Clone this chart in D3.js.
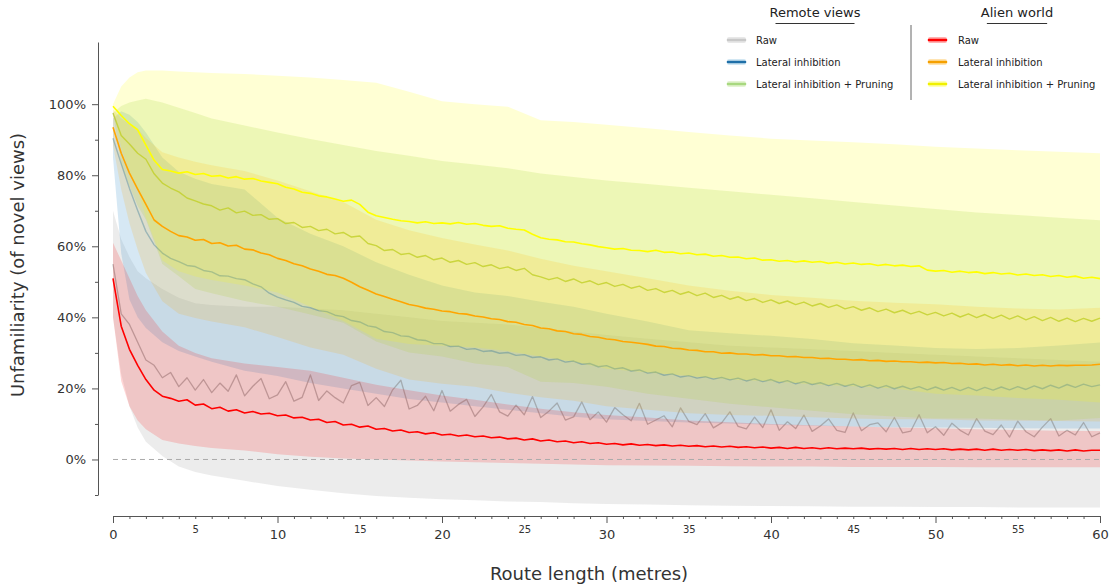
<!DOCTYPE html>
<html><head><meta charset="utf-8">
<script src="https://cdn.jsdelivr.net/npm/d3@7"></script>
<style>
html,body{margin:0;padding:0;background:#fff;}
svg{display:block;font-family:"DejaVu Sans",sans-serif;}
svg text{font-family:"DejaVu Sans",sans-serif;}
.ytk text{font-size:13px;fill:#333;}
.xmaj text{font-size:13px;fill:#333;}
.xmid text{font-size:10px;fill:#333;}
</style></head>
<body><svg id="c" width="1114" height="586"></svg>
<script>
// ---- data (route in metres, values in %) ----
const route = [0,0.5,1,1.5,2,2.5,3,3.5,4,4.5,5,5.5,6,6.5,7,7.5,8,8.5,9,9.5,10,10.5,11,11.5,12,12.5,13,13.5,14,14.5,15,15.5,16,16.5,17,17.5,18,18.5,19,19.5,20,20.5,21,21.5,22,22.5,23,23.5,24,24.5,25,25.5,26,26.5,27,27.5,28,28.5,29,29.5,30,30.5,31,31.5,32,32.5,33,33.5,34,34.5,35,35.5,36,36.5,37,37.5,38,38.5,39,39.5,40,40.5,41,41.5,42,42.5,43,43.5,44,44.5,45,45.5,46,46.5,47,47.5,48,48.5,49,49.5,50,50.5,51,51.5,52,52.5,53,53.5,54,54.5,55,55.5,56,56.5,57,57.5,58,58.5,59,59.5,60];

const remoteRaw = [55,41,38,33,28,26.5,23,24.5,20.5,23,19.5,22.5,18.8,21.5,19.2,23.8,
  17.9,20.6,22.8,17.1,18.2,21.9,16.4,17.5,23.8,16.6,19.3,17.4,15.9,20.8,21.7,15.2,17.4,14.9,19.6,22.3,14.2,15.2,17.8,13.7,
  19.4,13.6,15.5,16.9,12.1,14.8,18.3,13.4,12.2,15.3,12.6,17.7,11.8,13.6,15.9,11.1,12.0,16.2,11.2,13.4,
  10.5,14.6,12.6,10.9,15.8,9.9,11.1,12.3,9.2,14.5,10.7,9.8,12.9,8.9,10.3,13.4,9.3,8.6,11.9,9.0,
  14.0,8.2,10.6,8.7,12.5,7.9,9.4,11.4,8.2,7.6,13.1,8.1,9.8,10.3,7.8,11.8,7.5,8.0,12.6,7.5,
  9.2,6.8,10.2,8.2,6.9,11.5,8.0,7.0,9.7,6.3,10.8,7.8,6.4,9.1,11.5,6.6,8.2,6.9,10.4,6.4,7.5];
const remoteLI = [90.4,83.2,76.3,70.1,64.2,60.4,58.1,56.6,55.7,54.6,54.3,53.2,52.8,51.7,51.6,50.9,50.6,49.4,48.6,46.8,45.7,44.9,44.2,43.1,42.7,41.9,41.6,40.6,40.2,39.1,38.7,37.6,37.2,36.0,35.7,34.8,34.6,33.7,33.5,32.6,32.6,31.8,31.9,31.0,31.2,30.4,30.6,29.9,30.1,29.3,29.5,28.7,28.9,28.0,28.3,27.4,27.7,26.8,27.0,26.1,26.4,25.5,25.8,24.9,25.2,24.3,24.6,23.7,24.1,23.2,23.6,22.9,23.3,22.6,23.1,22.4,22.9,22.1,22.7,21.9,22.5,21.6,22.2,21.3,21.9,21.1,21.6,20.8,21.4,20.6,21.2,20.3,21.0,20.1,20.8,19.9,20.6,19.8,20.5,19.6,20.4,19.5,20.3,19.4,20.3,19.4,20.3,19.5,20.4,19.6,20.5,19.7,20.7,19.9,20.9,20.1,21.1,20.3,21.2,20.5,21.0];
const remoteLIP = [97.5,91.2,88.8,86.2,84.5,80.4,77.8,76.4,75.3,73.6,72.8,71.9,71.4,70.2,70.8,69.4,69.9,68.7,68.9,67.6,67.8,66.4,66.7,65.3,65.6,64.4,64.8,63.5,63.9,62.6,62.9,60.8,60.2,58.8,59.1,57.7,58.0,56.9,57.4,56.2,56.7,55.5,56.0,54.9,55.4,54.3,54.8,53.7,54.2,53.2,53.8,52.0,51.4,50.6,51.2,50.1,50.8,49.7,50.3,49.2,49.8,48.7,49.3,48.2,48.8,47.6,48.1,47.0,47.6,46.5,47.2,46.1,46.8,45.6,46.2,45.1,45.8,44.7,45.3,44.2,44.9,43.9,44.6,43.6,44.3,43.2,43.9,42.8,43.5,42.4,43.0,42.0,42.7,41.6,42.3,41.3,42.0,41.0,41.7,40.7,41.4,40.4,41.2,40.1,41.0,39.9,40.8,39.7,40.6,39.5,40.4,39.3,40.2,39.1,40.0,38.9,39.8,38.8,39.7,38.9,39.8];
const alienRaw = [51,37.5,31,26.5,22.5,19.5,17.8,17.2,16.4,16.8,15.3,15.6,14.3,14.7,13.6,14.0,13.1,13.5,12.8,13.0,12.3,12.5,11.7,11.9,11.1,11.3,10.4,10.7,9.7,9.9,9.1,9.4,8.5,8.7,8.0,8.3,7.6,7.8,7.2,7.5,6.9,7.1,6.6,6.9,6.4,6.6,6.1,6.3,5.8,6.0,5.5,5.8,5.2,5.5,5.0,5.2,4.7,5.0,4.5,4.7,4.3,4.5,4.1,4.4,4.0,4.2,3.9,4.1,3.8,4.0,3.7,3.9,3.6,3.8,3.5,3.7,3.4,3.6,3.3,3.5,3.2,3.4,3.1,3.4,3.1,3.3,3.0,3.3,3.0,3.2,3.0,3.2,2.9,3.1,2.9,3.1,2.8,3.1,2.8,3.0,2.8,3.0,2.7,2.9,2.7,2.9,2.6,2.9,2.6,2.8,2.6,2.8,2.5,2.7,2.5,2.7,2.4,2.7,2.4,2.6,2.6];
const alienLI = [93.5,86.2,80.6,76.1,71.8,67.4,65.6,64.2,63.0,62.6,61.7,61.9,60.8,61.0,60.1,60.3,59.2,59.0,58.1,57.6,56.6,56.0,55.1,54.5,53.6,53.0,52.1,51.8,51.0,49.9,48.6,47.6,46.6,45.9,45.1,44.4,43.6,43.2,42.6,42.3,41.8,41.6,41.1,40.9,40.4,40.1,39.6,39.4,38.8,38.6,38.0,37.7,37.0,36.8,36.2,36.0,35.4,35.2,34.6,34.4,33.9,33.7,33.2,33.0,32.7,32.4,31.9,31.8,31.3,31.2,30.8,30.7,30.3,30.3,29.9,30.0,29.7,29.7,29.4,29.5,29.2,29.2,28.9,29.0,28.7,28.7,28.4,28.5,28.2,28.2,28.0,28.1,27.8,27.9,27.6,27.7,27.5,27.5,27.3,27.4,27.2,27.3,27.0,27.1,26.8,26.9,26.6,26.8,26.5,26.7,26.4,26.6,26.3,26.5,26.3,26.5,26.4,26.5,26.5,26.6,26.8];
const alienLIP = [99.4,96.8,94.5,92.8,88.5,84.2,81.6,81.2,80.6,81.0,80.2,80.5,79.7,79.9,79.2,79.6,78.9,79.1,78.4,78.0,77.6,76.6,76.1,75.2,74.9,74.2,73.9,73.3,72.7,73.0,71.8,69.6,68.6,68.1,67.6,67.2,67.0,66.6,66.9,66.4,66.6,66.3,66.7,66.2,66.4,65.9,65.6,65.8,65.1,64.8,64.6,63.4,62.4,62.0,61.8,61.3,61.2,60.7,60.4,59.9,59.6,59.2,59.4,58.9,58.8,58.5,58.9,58.3,58.4,57.9,58.1,57.6,57.8,57.2,57.4,56.9,57.0,56.5,56.7,56.1,56.2,55.8,56.0,55.6,55.9,55.5,55.7,55.2,55.5,55.0,55.3,54.9,55.1,54.6,54.9,54.5,54.7,54.3,54.5,53.3,53.0,53.2,52.7,53.0,52.6,52.8,52.3,52.6,52.2,52.4,51.9,52.2,51.8,52.0,51.5,51.8,51.3,51.6,51.0,51.3,50.9];

// spread bands (lower / upper), sampled on a coarser route
const bandRoute = [0,0.5,1,1.5,2,3,4,5,6,8,10,12,14,16,18,20,22,24,26,28,30,32.5,35,37.5,40,42.5,45,47.5,50,52.5,55,57.5,60];
const remoteRawLo = [40,24,15,9,5,1,-2,-3.5,-4.5,-6,-7.5,-8.5,-9.5,-10.3,-10.8,-11.2,-11.5,-11.8,-12,-12.3,-12.5,-12.7,-12.9,-13,-13.1,-13.2,-13.3,-13.3,-13.4,-13.4,-13.5,-13.5,-13.5];
const remoteRawHi = [70,62,57,53,51,48,45.5,44,43.5,43,43,42.5,42,41,40,39,38.5,38,37,36,35,34,33,32,31.5,31,30.5,30,29.5,29,28.5,28,27.5];
const remoteLILo = [85,58,45,40,37,33,30.5,29,27.5,25,23.5,21.5,20,18.5,17,16,15,14,13,12,11.3,10.8,10.4,10.1,9.8,9.5,9.3,9.1,9,8.9,8.8,8.7,8.7];
const remoteLIHi = [96,98,97,95,92,85,81,79,77.5,76,68,63.5,60,55.5,52,49,47,46,44.4,43,41,38.8,36.4,35.5,34.8,33.9,32.7,32.1,31.4,31.1,31.4,32.1,32.9];
const remoteLIPLo = [97.5,83,77,71.4,67.5,55,51.6,48,46.8,44.6,43,40.8,38.5,33.2,30.1,29,27,26,21.9,21.5,20.5,18.5,17.1,15.7,14.7,13.7,12.7,12.1,11.5,11.5,11.2,11,11.7];
const remoteLIPHi = [97.5,99.5,100.5,101,101.5,100.5,99,97.5,96,94,92,90.2,88.5,86.8,85.5,84,83,82,80.5,79.5,78.5,77.5,76.5,75.5,74.5,73.5,72.5,71.5,70.5,69.5,68.8,68,67.3];
const alienRawLo = [40,22,15,11,8.5,5.5,4.5,3.8,3.2,2.5,1.5,0.8,0.3,0,-0.3,-0.6,-0.8,-1,-1.2,-1.4,-1.6,-1.7,-1.8,-1.9,-2,-2,-2.1,-2.1,-2.1,-2.2,-2.2,-2.2,-2.2];
const alienRawHi = [61,56,51,46,42,36,32,30,28.5,27,26,25,23,21,19.5,18,16.8,15.5,14.3,13.3,12.5,11.8,11,10.5,10,9.6,9.3,9,8.8,8.5,8.3,8.1,8];
const alienLILo = [88.5,76,66.5,59,52.5,44.5,41,39.8,38.8,37.2,34.5,31.5,29.5,25.5,22.5,21.3,20.5,18.8,17.5,16.5,15,14,13,12.5,12.3,11.9,11.5,11.3,11.3,11,10.9,10.8,10.7];
const alienLIHi = [98.5,96,94.5,93,90.5,86.5,85,83.8,82.8,81.2,78.5,75.5,72.5,67.5,64.5,62.3,60.5,58.8,56.5,54.5,53,51,49,47.5,46.3,45.5,44.7,44.1,43.7,43,42.5,42.2,42.7];
const alienLIPLo = [99,88,81,76,68,56,53,51.5,50.5,49,47,43,39,34,32.5,32,31.5,30.5,29,27.5,25.5,24.5,23.5,22.5,22,21.2,20.6,20,18.5,18,17.3,16.8,16];
const alienLIPHi = [100,105,107.5,109,109.5,109.5,109.2,109,108.8,108.5,108,107.5,106.8,106,103.5,100.8,100,99.3,95.5,95,94.2,93.2,92.2,91.2,90.3,89.8,89.3,88.7,88,87.5,87,86.6,86.2];

const yMajorTicks = [0,20,40,60,80,100];
const yMinorTicks = [-10,10,30,50,70,90];
const xMajorTicks = [0,10,20,30,40,50,60];
const xMidTicks = [5,15,25,35,45,55];
const xMinorTicks = [1,2,3,4,6,7,8,9,11,12,13,14,16,17,18,19,21,22,23,24,26,27,28,29,31,32,33,34,36,37,38,39,41,42,43,44,46,47,48,49,51,52,53,54,56,57,58,59];

const groupTitles = ["Remote views","Alien world"];
const seriesNames = ["Raw","Lateral inhibition","Lateral inhibition + Pruning"];

// ---- drawing ----
const svg = d3.select("#c");
const x = d3.scaleLinear().domain([0,60]).range([113,1100]);
const y = d3.scaleLinear().domain([-10,117.5]).range([495,42]);

const series = [
  {v:remoteRaw, lo:remoteRawLo, hi:remoteRawHi, line:"#8c8c8c", lop:0.6, fill:"#b4b4b4", fop:0.26, w:1.3},
  {v:remoteLI, lo:remoteLILo, hi:remoteLIHi, line:"#1f77b4", lop:0.42, fill:"#6baed6", fop:0.28, w:1.4},
  {v:remoteLIP, lo:remoteLIPLo, hi:remoteLIPHi, line:"#a8cc3a", lop:0.8, fill:"#a6d96a", fop:0.24, w:1.4},
  {v:alienRaw, lo:alienRawLo, hi:alienRawHi, line:"#ff0000", lop:1, fill:"#ff0000", fop:0.16, w:1.6},
  {v:alienLI, lo:alienLILo, hi:alienLIHi, line:"#ffa500", lop:1, fill:"#ffa500", fop:0.16, w:1.6},
  {v:alienLIP, lo:alienLIPLo, hi:alienLIPHi, line:"#ffff00", lop:1, fill:"#ffff00", fop:0.17, w:1.6}
];

const area = d3.area().x((d,i)=>x(bandRoute[i])).y0(d=>y(d[0])).y1(d=>y(d[1]));
const line = d3.line().x((d,i)=>x(route[i])).y(d=>y(d));

const plot = svg.append("g");
function drawGroup(list){
  list.forEach(s=>{
    plot.append("path").datum(s.lo.map((l,i)=>[l,s.hi[i]])).attr("d",area)
      .attr("fill",s.fill).attr("fill-opacity",s.fop).attr("stroke","none");
  });
  list.forEach(s=>{
    plot.append("path").datum(s.v).attr("d",line).attr("fill","none")
      .attr("stroke",s.line).attr("stroke-opacity",s.lop).attr("stroke-width",s.w)
      .attr("stroke-linejoin","round");
  });
}
drawGroup(series.slice(0,3));
drawGroup(series.slice(3));

// zero reference
plot.append("line").attr("x1",x(0)).attr("x2",x(60)).attr("y1",y(0)).attr("y2",y(0))
  .attr("stroke","#aaaaaa").attr("stroke-width",1).attr("stroke-dasharray","5,4");

// ---- axes ----
const axCol = "#555";
const yAx = svg.append("g").attr("class","ytk").attr("transform","translate(98,0)");
yAx.call(d3.axisLeft(y).tickValues(yMajorTicks).tickSize(6).tickSizeOuter(0).tickPadding(6).tickFormat(d=>d+"%"));
yAx.append("g").call(d3.axisLeft(y).tickValues(yMinorTicks).tickSize(3).tickSizeOuter(0).tickFormat(""))
  .select(".domain").remove();
yAx.selectAll("line,path").attr("stroke",axCol);

const xAx = svg.append("g").attr("transform","translate(0,516)");
const xMaj = xAx.append("g").attr("class","xmaj")
  .call(d3.axisBottom(x).tickValues(xMajorTicks).tickSize(7).tickSizeOuter(0).tickPadding(7));
const xMid = xAx.append("g").attr("class","xmid")
  .call(d3.axisBottom(x).tickValues(xMidTicks).tickSize(3).tickPadding(7));
xMid.select(".domain").remove();
const xMin = xAx.append("g").call(d3.axisBottom(x).tickValues(xMinorTicks).tickSize(3).tickFormat(""));
xMin.select(".domain").remove();
xAx.selectAll("line,path").attr("stroke",axCol);

svg.append("text").attr("x",589).attr("y",580).attr("text-anchor","middle")
  .style("font-size","18px").attr("fill","#333").text("Route length (metres)");
svg.append("text").attr("transform","translate(24,265) rotate(-90)").attr("text-anchor","middle")
  .style("font-size","18px").attr("fill","#333").text("Unfamiliarity (of novel views)");

// ---- legend ----
const leg = svg.append("g");
const legCols = [{cx:815, sx:728, tx:756, s:series.slice(0,3), sw:["#c8c8c8","#1f6fa8","#a8d880"]},
                 {cx:1017, sx:929, tx:958, s:series.slice(3), sw:["#ff0000","#f5a000","#f0f000"]}];
const rowY = [40,62,84];
legCols.forEach((c,ci)=>{
  const t = leg.append("text").attr("x",c.cx).attr("y",17).attr("text-anchor","middle")
    .style("font-size","13px").attr("fill","#222").text(groupTitles[ci]);
  const w = t.node().getComputedTextLength();
  leg.append("line").attr("x1",c.cx-w/2+6).attr("x2",c.cx+w/2-6).attr("y1",23.5).attr("y2",23.5)
    .attr("stroke","#333").attr("stroke-width",1);
  c.s.forEach((s,i)=>{
    leg.append("rect").attr("x",c.sx-1).attr("y",rowY[i]-3).attr("width",19).attr("height",6).attr("rx",2)
      .attr("fill",s.fill).attr("fill-opacity",0.3);
    leg.append("line").attr("x1",c.sx).attr("x2",c.sx+17).attr("y1",rowY[i]).attr("y2",rowY[i])
      .attr("stroke",c.sw[i]).attr("stroke-width",2.6).attr("stroke-linecap","round");
    leg.append("text").attr("x",c.tx).attr("y",rowY[i]+3.5).style("font-size","10px").attr("fill","#222")
      .text(seriesNames[i]);
  });
});
leg.append("line").attr("x1",911).attr("x2",911).attr("y1",25).attr("y2",100).attr("stroke","#666").attr("stroke-width",1);
</script></body></html>
